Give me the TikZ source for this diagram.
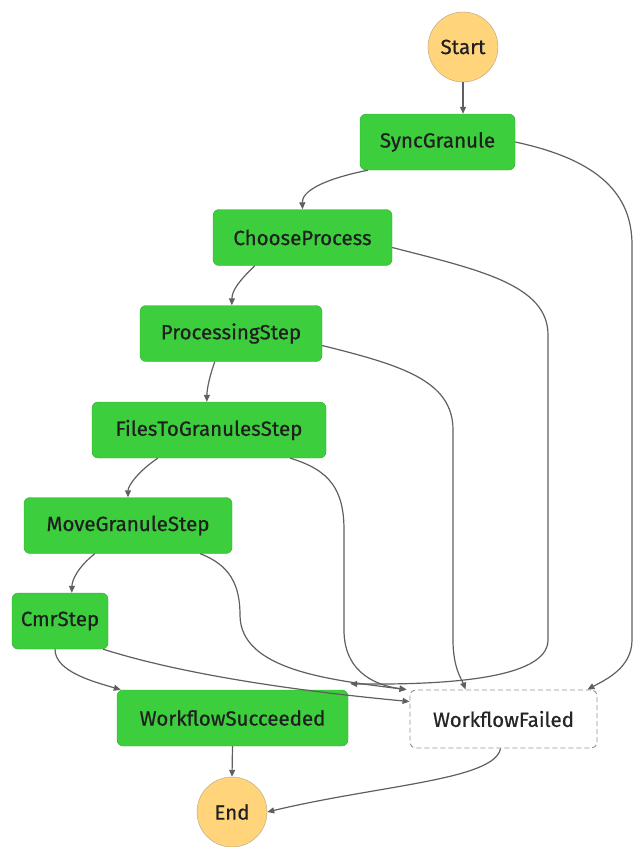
\documentclass[tikz,border=0pt]{standalone}
\usepackage{fontspec}
\setmainfont{Fira Sans}
\newfontfamily\labelfont{Fira Sans}[FakeBold=0.6]
\usetikzlibrary{arrows.meta}
\definecolor{stepgreen}{RGB}{60,206,60}
\definecolor{stepborder}{RGB}{50,170,50}
\definecolor{termfill}{RGB}{255,212,122}
\definecolor{termborder}{RGB}{178,160,128}
\definecolor{edgegray}{RGB}{95,95,95}

\begin{document}
\begin{tikzpicture}[x=1pt, y=-1pt,
  task/.style={draw=stepborder, fill=stepgreen, rounded corners=6pt, minimum height=56pt, inner sep=0pt, font=\labelfont\fontsize{20.5}{24}\selectfont, text=black!88},
  failbox/.style={draw=gray!85, line width=0.9pt, dash pattern=on 5pt off 3pt, fill=white, rounded corners=6pt, minimum height=58pt, inner sep=0pt, font=\labelfont\fontsize{20.5}{24}\selectfont, text=black!85},
  term/.style={circle, draw=termborder, fill=termfill, minimum size=70pt, inner sep=0pt, font=\labelfont\fontsize{20.5}{24}\selectfont, text=black!88},
  edge/.style={draw=edgegray, line width=1.2pt, -{Triangle[length=7pt, width=6pt]}}
]
\useasboundingbox (0,0) rectangle (635,847);

\node[term] (start) at (463,47) {Start};
\node[task, minimum width=155pt] (sync) at (437.5,142) {SyncGranule};
\node[task, minimum width=179pt] (choose) at (302.5,237.5) {ChooseProcess};
\node[task, minimum width=182pt] (proc) at (231,333.5) {ProcessingStep};
\node[task, minimum width=234pt] (files) at (209,430) {FilesToGranulesStep};
\node[task, minimum width=208pt] (move) at (128,525.5) {MoveGranuleStep};
\node[task, minimum width=96pt] (cmr) at (60,621) {CmrStep};
\node[task, minimum width=231pt] (ws) at (232.5,718) {WorkflowSucceeded};
\node[failbox, minimum width=187pt] (wf) at (503.5,719) {WorkflowFailed};
\node[term] (end) at (232,812) {End};

\draw[edge] (start.south) -- (start.south |- sync.north);
\draw[edge] ([xshift=8pt]sync.south west) .. controls (320,180) and (302,192) .. (choose.north);
\draw[edge] ([xshift=42pt]choose.south west) .. controls (240,280) and (232,290) .. ([xshift=92pt]proc.north west);
\draw[edge] ([xshift=75pt]proc.south west) .. controls (210,375) and (207,388) .. ([xshift=115pt]files.north west);
\draw[edge] ([xshift=66pt]files.south west) .. controls (140,470) and (128,485) .. (move.north);
\draw[edge] ([xshift=71pt]move.south west) .. controls (78,567) and (72,580) .. ([xshift=60pt]cmr.north west);
\draw[edge] ([xshift=-5pt]cmr.south) .. controls (55,672) and (95,682) .. ([xshift=4pt]ws.north west);
\draw[edge] ([xshift=-5pt]cmr.south east) .. controls (200,680) and (340,695) .. ([yshift=-12pt]wf.north west);
\draw[edge] ([xshift=-32pt]move.south east) .. controls (230,565) and (240,585) .. (240,615) .. controls (240,670) and (330,680) .. ([xshift=-3pt]wf.north west);
\draw[edge] ([xshift=-36pt]files.south east) .. controls (330,470) and (344,490) .. (344,530) -- (344,630) .. controls (344,675) and (380,686) .. ([xshift=-3pt]wf.north west);
\draw[edge] ([yshift=-12pt]proc.east) .. controls (400,365) and (453,380) .. (453,430) -- (453,640) .. controls (453,668) and (462,680) .. ([xshift=-38pt]wf.north);
\draw[edge] ([yshift=-10pt]choose.east) .. controls (480,270) and (548,285) .. (548,335) -- (548,640) .. controls (548,680) and (440,685) .. ([xshift=2pt, yshift=6pt]ws.north east);
\draw[edge] (sync.east) .. controls (600,160) and (632,195) .. (632,245) -- (632,640) .. controls (632,668) and (605,680) .. ([xshift=-10pt]wf.north east);
\draw[edge] (ws.south) -- (end.north);
\draw[edge] ([xshift=-3pt]wf.south) .. controls (495,780) and (380,785) .. (end.east);
\end{tikzpicture}
\end{document}
